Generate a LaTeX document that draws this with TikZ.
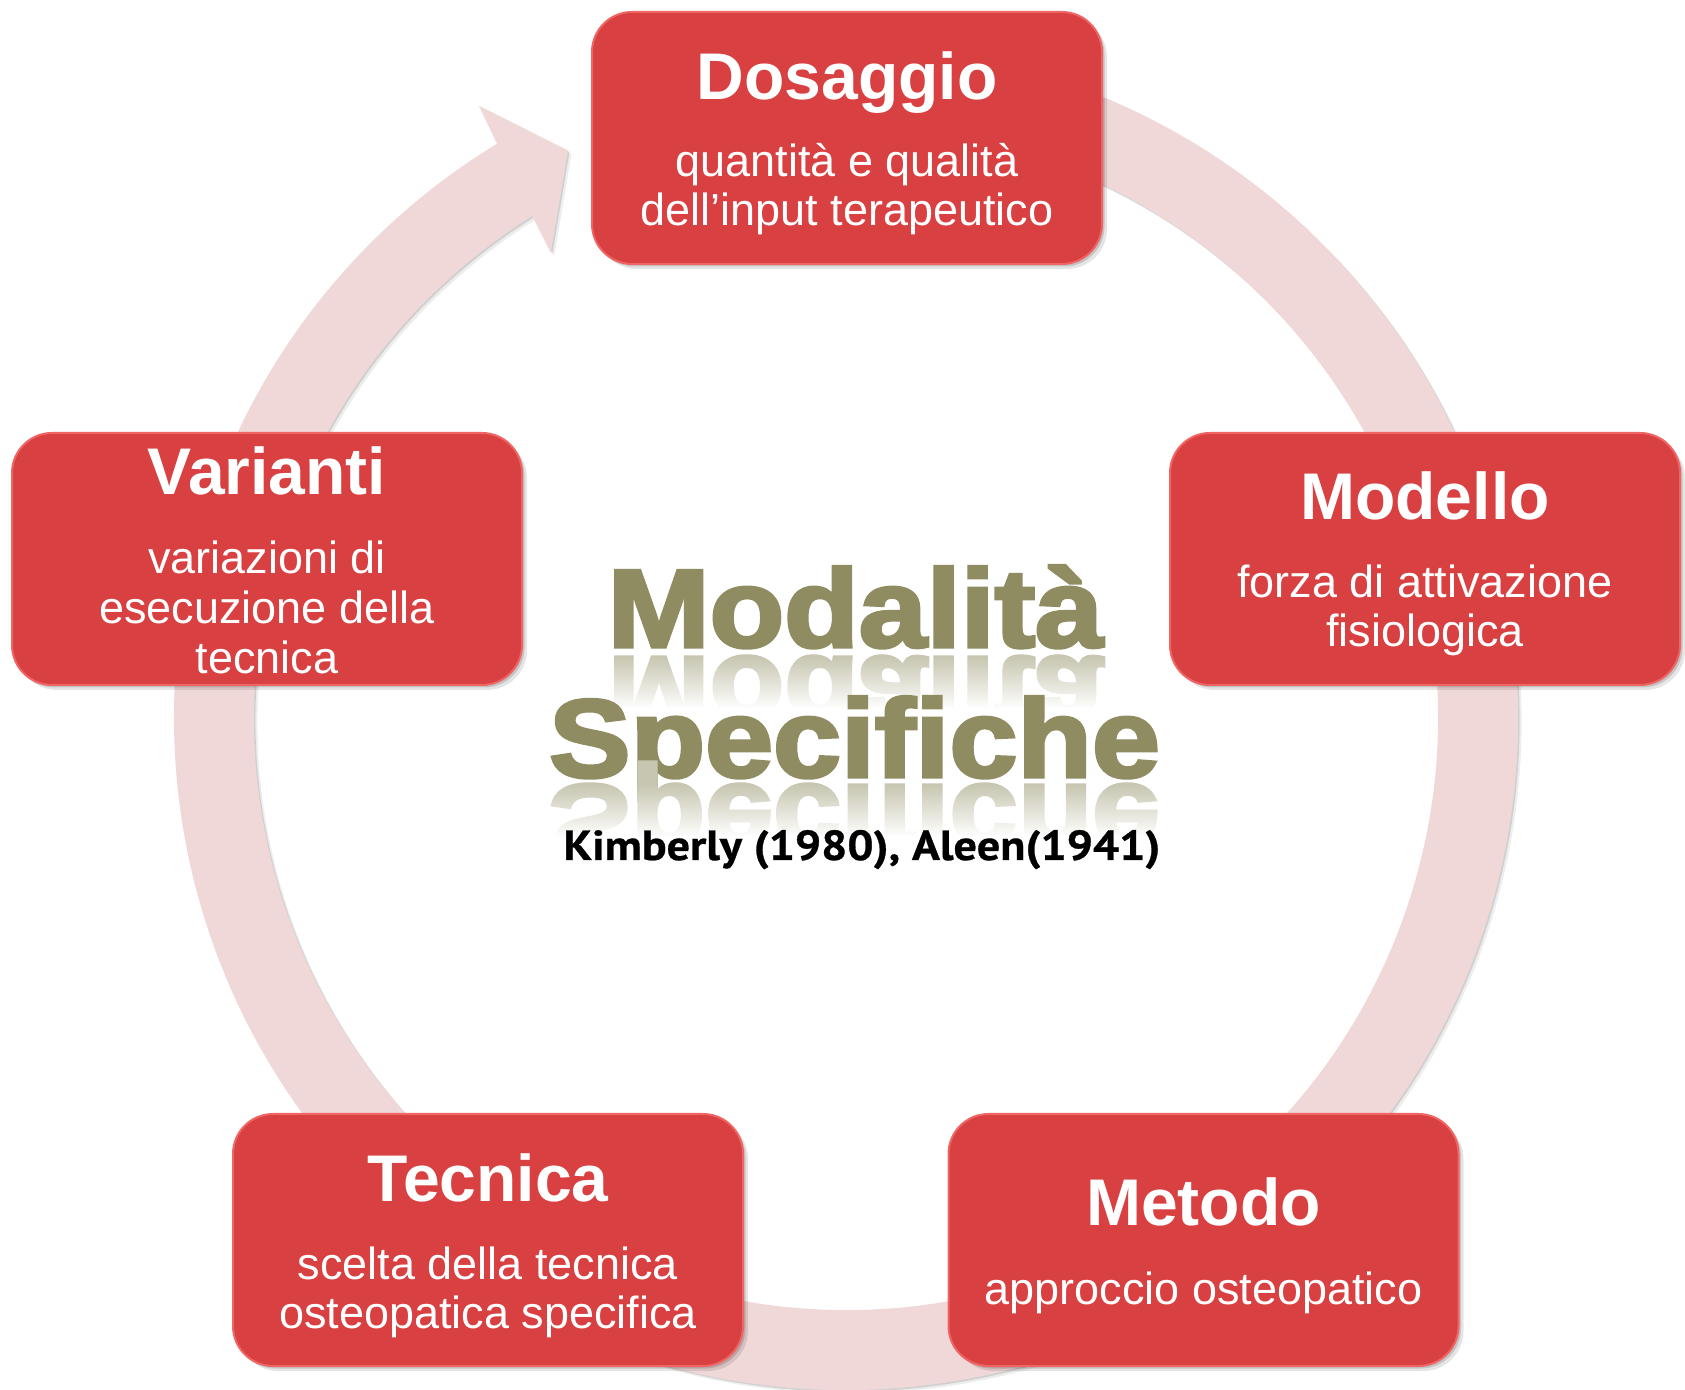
\documentclass[tikz,border=0pt]{standalone}
\usepackage{fontspec}
\setmainfont{Liberation Sans}
\newfontfamily\heavyfont{Liberation Sans Bold}[FakeBold=3]
\newfontfamily\refont{PT Sans}[FakeBold=0.6]
\usetikzlibrary{shadows,fadings}
\definecolor{boxred}{HTML}{D94041}
\definecolor{boxrim}{HTML}{F06464}
\definecolor{ringc}{HTML}{F1D8D8}
\definecolor{olive}{HTML}{8F8C62}
\tikzfading[name=fadedown, top color=transparent!100, bottom color=transparent!0]
\def\ringpath{(100:672) arc[start angle=100, end angle=-238.7, radius=672] -- (120.95:714) -- (116.1:632) -- (122.4:551) -- (122.0:592) arc[start angle=-238.0, end angle=100, radius=592] -- cycle}
\begin{document}
\begin{tikzpicture}[x=1pt,y=1pt,
  box/.style={rounded corners=40pt, fill=boxred, draw=boxrim, line width=2pt,
    minimum width=510pt, minimum height=252pt, inner sep=0pt,
    general shadow={fill=black, opacity=.10, shadow xshift=5pt, shadow yshift=-5pt},
    general shadow={fill=black, opacity=.14, shadow xshift=2.5pt, shadow yshift=-2.5pt}},
  ttl/.style={anchor=base, text=white, inner sep=0pt, font=\fontsize{66}{66}\selectfont\bfseries},
  sub/.style={anchor=base, text=white, inner sep=0pt, font=\fontsize{45}{45}\selectfont},
  bigtxt/.style={anchor=base, inner sep=0pt, font=\heavyfont\fontsize{111}{111}\selectfont},
  cite/.style={anchor=base, inner sep=0pt, text=black, font=\refont\bfseries\fontsize{42}{42}\selectfont}]
\fill[white] (0,0) rectangle (1685,1389);
\useasboundingbox (0,0) rectangle (1685,1389);
% circular arrow
\begin{scope}[shift={(849.5,667.5)}]
  \fill[black, opacity=.07] \ringpath;
\end{scope}
\begin{scope}[shift={(847.5,669.5)}]
  \fill[black, opacity=.12] \ringpath;
\end{scope}
\begin{scope}[shift={(846,671)}]
  \fill[ringc] \ringpath;
\end{scope}
% boxes
\node[box] (dos) at (847,1251) {};
\node[ttl] (dost) at (847,1289) {Dosaggio};
\node[sub] (dos1) at (847,1212) {quantità e qualità};
\node[sub] (dos2) at (847,1163) {dell’input terapeutico};

\node[box] (mod) at (1425,830) {};
\node[ttl] (modt) at (1425,869) {Modello};
\node[sub] (mod1) at (1425,791) {forza di attivazione};
\node[sub] (mod2) at (1425,742) {fisiologica};

\node[box] (var) at (267,830) {};
\node[ttl] (vart) at (267,894) {Varianti};
\node[sub] (var1) at (267,815) {variazioni di};
\node[sub] (var2) at (267,765) {esecuzione della};
\node[sub] (var3) at (267,715) {tecnica};

\node[box] (tec) at (488,149) {};
\node[ttl] (tect) at (488,188) {Tecnica};
\node[sub] (tec1) at (488,110) {scelta della tecnica};
\node[sub] (tec2) at (488,61) {osteopatica specifica};

\node[box] (met) at (1203.5,149) {};
\node[ttl] (mett) at (1203.5,164) {Metodo};
\node[sub] (met1) at (1203.5,85) {approccio osteopatico};

% central title
\node[bigtxt, text=olive] (w1) at (855.5,742) {\scalebox{1.1}[1]{Modalità}};
\node[bigtxt, text=olive!50] (w1r) at (855.5,732) {\scalebox{1.1}[-1]{Modalità}};
\fill[white, path fading=fadedown] (590,733) rectangle (1125,680);
\fill[white] (590,680.5) rectangle (1125,640);
\node[bigtxt, text=olive] (w2) at (854.5,612) {\scalebox{1.1}[1]{Specifiche}};
\node[bigtxt, text=olive!50] (w2r) at (854.5,604) {\scalebox{1.1}[-1]{Specifiche}};
\fill[white, path fading=fadedown] (530,605) rectangle (1165,552);
\fill[white] (530,552.5) rectangle (1165,505);
\node[cite] (kim) at (862,529) {\scalebox{1.1}[1]{Kimberly (1980), Aleen(1941)}};
\end{tikzpicture}
\end{document}
